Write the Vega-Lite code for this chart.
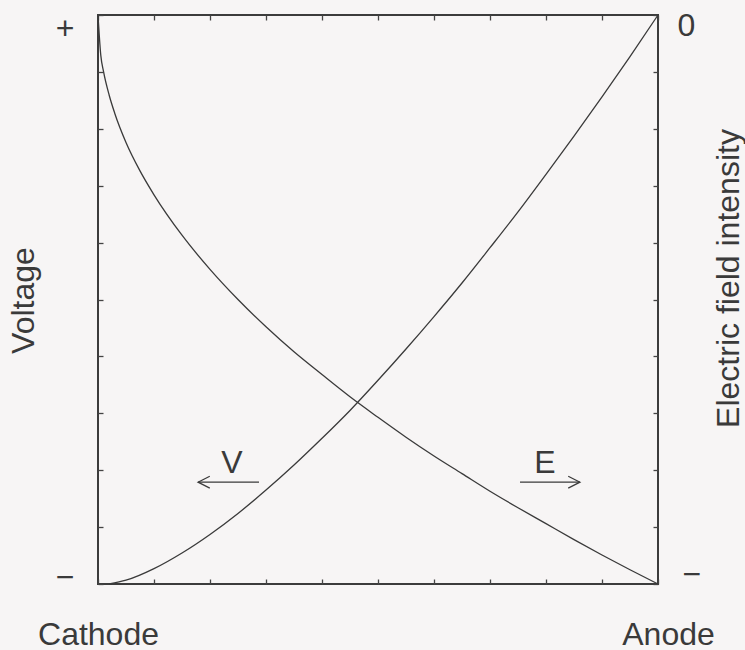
{
  "$schema": "https://vega.github.io/schema/vega-lite/v6.json",
  "width": 560,
  "height": 569,
  "autosize": {"type": "none"},
  "padding": {"left": 98, "top": 15, "right": 87, "bottom": 66},
  "background": "#f7f5f5",
  "config": {
    "view": {"stroke": "#3c3c3c", "strokeWidth": 2},
    "font": "Liberation Sans",
    "axis": {
      "domain": false,
      "grid": false,
      "tickSize": -5,
      "tickColor": "#444444",
      "tickWidth": 1.3,
      "labelFont": "Liberation Sans",
      "labelFontSize": 32,
      "labelColor": "#3a3a3a",
      "labelOverlap": false,
      "labelFlush": false,
      "titleFont": "Liberation Sans",
      "titleFontSize": 32,
      "titleFontWeight": "normal",
      "titleColor": "#3a3a3a"
    }
  },
  "datasets": {
    "curves": [
      {"series": "V", "position": 0.0, "level": 1.0},
      {"series": "V", "position": 0.005, "level": 0.929},
      {"series": "V", "position": 0.01, "level": 0.9},
      {"series": "V", "position": 0.02, "level": 0.859},
      {"series": "V", "position": 0.03, "level": 0.827},
      {"series": "V", "position": 0.05, "level": 0.776},
      {"series": "V", "position": 0.075, "level": 0.726},
      {"series": "V", "position": 0.1, "level": 0.684},
      {"series": "V", "position": 0.15, "level": 0.613},
      {"series": "V", "position": 0.2, "level": 0.553},
      {"series": "V", "position": 0.25, "level": 0.5},
      {"series": "V", "position": 0.3, "level": 0.452},
      {"series": "V", "position": 0.35, "level": 0.408},
      {"series": "V", "position": 0.4, "level": 0.368},
      {"series": "V", "position": 0.45, "level": 0.329},
      {"series": "V", "position": 0.5, "level": 0.293},
      {"series": "V", "position": 0.55, "level": 0.258},
      {"series": "V", "position": 0.6, "level": 0.225},
      {"series": "V", "position": 0.65, "level": 0.194},
      {"series": "V", "position": 0.7, "level": 0.163},
      {"series": "V", "position": 0.75, "level": 0.134},
      {"series": "V", "position": 0.8, "level": 0.106},
      {"series": "V", "position": 0.85, "level": 0.078},
      {"series": "V", "position": 0.9, "level": 0.051},
      {"series": "V", "position": 0.95, "level": 0.025},
      {"series": "V", "position": 1.0, "level": 0.0},
      {"series": "E", "position": 0.02, "level": 0.0},
      {"series": "E", "position": 0.05, "level": 0.0066},
      {"series": "E", "position": 0.1, "level": 0.027},
      {"series": "E", "position": 0.15, "level": 0.0545},
      {"series": "E", "position": 0.2, "level": 0.0871},
      {"series": "E", "position": 0.25, "level": 0.124},
      {"series": "E", "position": 0.3, "level": 0.165},
      {"series": "E", "position": 0.35, "level": 0.209},
      {"series": "E", "position": 0.4, "level": 0.256},
      {"series": "E", "position": 0.45, "level": 0.305},
      {"series": "E", "position": 0.5, "level": 0.358},
      {"series": "E", "position": 0.55, "level": 0.413},
      {"series": "E", "position": 0.6, "level": 0.47},
      {"series": "E", "position": 0.65, "level": 0.529},
      {"series": "E", "position": 0.7, "level": 0.591},
      {"series": "E", "position": 0.75, "level": 0.654},
      {"series": "E", "position": 0.8, "level": 0.72},
      {"series": "E", "position": 0.85, "level": 0.787},
      {"series": "E", "position": 0.9, "level": 0.856},
      {"series": "E", "position": 0.95, "level": 0.927},
      {"series": "E", "position": 1.0, "level": 1.0}
    ],
    "arrows": [
      {"part": "V shaft", "ord": 1, "position": 0.2875, "level": 0.179},
      {"part": "V shaft", "ord": 2, "position": 0.1786, "level": 0.179},
      {"part": "V head", "ord": 1, "position": 0.1996, "level": 0.1895},
      {"part": "V head", "ord": 2, "position": 0.1786, "level": 0.179},
      {"part": "V head", "ord": 3, "position": 0.1996, "level": 0.1685},
      {"part": "E shaft", "ord": 1, "position": 0.7536, "level": 0.179},
      {"part": "E shaft", "ord": 2, "position": 0.8607, "level": 0.179},
      {"part": "E head", "ord": 1, "position": 0.8397, "level": 0.1895},
      {"part": "E head", "ord": 2, "position": 0.8607, "level": 0.179},
      {"part": "E head", "ord": 3, "position": 0.8397, "level": 0.1685}
    ],
    "letters": [
      {"name": "V", "position": 0.239, "level": 0.195},
      {"name": "E", "position": 0.798, "level": 0.195}
    ]
  },
  "layer": [
    {
      "data": {"name": "curves"},
      "mark": {"type": "line", "color": "#3a3a3a", "strokeWidth": 1.3, "interpolate": "monotone"},
      "encoding": {
        "x": {
          "field": "position",
          "type": "quantitative",
          "scale": {"domain": [0, 1], "nice": false, "zero": false},
          "axis": {
            "orient": "bottom",
            "title": null,
            "values": [0, 0.1, 0.2, 0.3, 0.4, 0.5, 0.6, 0.7, 0.8, 0.9, 1],
            "labelExpr": "datum.value == 0 ? 'Cathode' : datum.value == 1 ? 'Anode' : ''",
            "labelAlign": "center",
            "labelBaseline": "alphabetic",
            "labelPadding": 65,
            "labelOffset": {"condition": {"test": "datum.value == 1", "value": 10}, "value": 0}
          }
        },
        "y": {
          "field": "level",
          "type": "quantitative",
          "scale": {"domain": [0, 1], "nice": false, "zero": false},
          "axis": {
            "orient": "left",
            "title": "Voltage",
            "titleAngle": -90,
            "titleAlign": "center",
            "titleBaseline": "middle",
            "titleX": -75,
            "titleY": 285,
            "values": [0, 0.1, 0.2, 0.3, 0.4, 0.5, 0.6, 0.7, 0.8, 0.9, 1],
            "labelExpr": "datum.value == 1 ? '+' : datum.value == 0 ? '\u2212' : ''",
            "labelAlign": "right",
            "labelBaseline": "middle",
            "labelPadding": 29,
            "labelOffset": {"condition": {"test": "datum.value == 1", "value": 13}, "value": -7}
          }
        },
        "detail": {"field": "series"}
      }
    },
    {
      "data": {"name": "arrows"},
      "mark": {"type": "line", "color": "#3a3a3a", "strokeWidth": 1.2},
      "encoding": {
        "x": {
          "field": "position",
          "type": "quantitative",
          "scale": {"domain": [0, 1], "nice": false, "zero": false},
          "axis": {
            "orient": "top",
            "title": null,
            "values": [0, 0.1, 0.2, 0.3, 0.4, 0.5, 0.6, 0.7, 0.8, 0.9, 1],
            "labels": false
          }
        },
        "y": {
          "field": "level",
          "type": "quantitative",
          "scale": {"domain": [0, 1], "nice": false, "zero": false},
          "axis": {
            "orient": "right",
            "title": "Electric field intensity",
            "titleAngle": -90,
            "titleAlign": "center",
            "titleBaseline": "middle",
            "titleX": 70,
            "titleY": 263,
            "values": [0, 0.1, 0.2, 0.3, 0.4, 0.5, 0.6, 0.7, 0.8, 0.9, 1],
            "labelExpr": "datum.value == 1 ? '0' : datum.value == 0 ? '\u2212' : ''",
            "labelAlign": "left",
            "labelBaseline": "middle",
            "labelPadding": {"condition": {"test": "datum.value == 1", "value": 24}, "value": 29},
            "labelOffset": {"condition": {"test": "datum.value == 1", "value": 10}, "value": -10}
          }
        },
        "detail": {"field": "part"},
        "order": {"field": "ord"}
      }
    },
    {
      "data": {"name": "letters"},
      "mark": {"type": "text", "font": "Liberation Sans", "fontSize": 32, "color": "#3a3a3a", "align": "center", "baseline": "alphabetic"},
      "encoding": {
        "x": {"field": "position", "type": "quantitative", "axis": null},
        "y": {"field": "level", "type": "quantitative", "axis": null},
        "text": {"field": "name"}
      }
    }
  ],
  "resolve": {"axis": {"x": "independent", "y": "independent"}}
}
